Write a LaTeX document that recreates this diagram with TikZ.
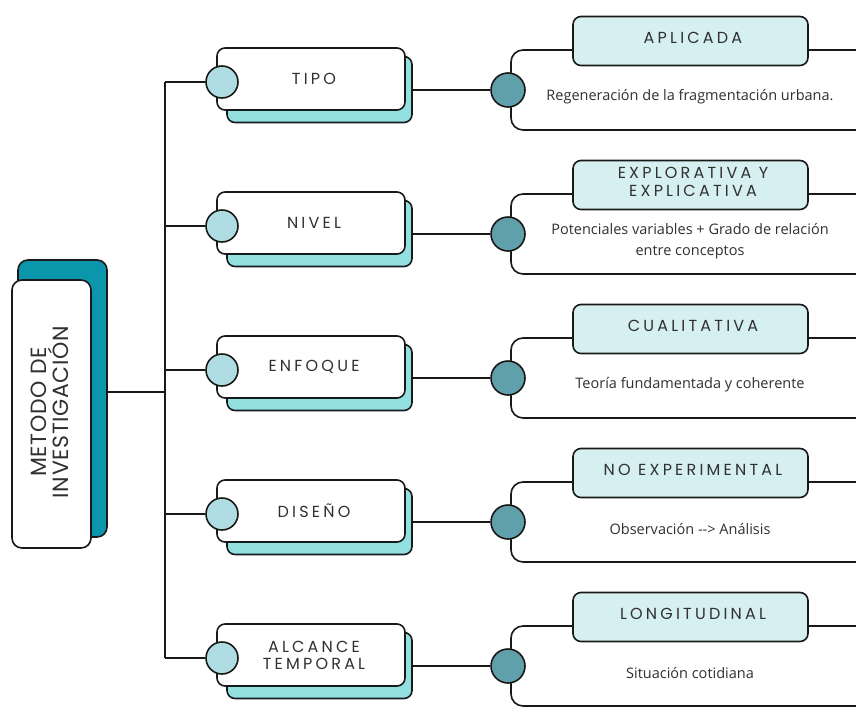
\documentclass[tikz,border=0pt]{standalone}
\usepackage{fontspec}
\setmainfont{Open Sans}
\newfontfamily\labfont[LetterSpace=20]{Poppins}
\newfontfamily\titfont[LetterSpace=3]{Poppins}
\definecolor{mainteal}{RGB}{12,150,172}
\definecolor{midshadow}{RGB}{146,224,224}
\definecolor{midcirc}{RGB}{175,219,226}
\definecolor{darkcirc}{RGB}{96,160,170}
\definecolor{headfill}{RGB}{214,239,240}
\definecolor{ink}{RGB}{25,25,25}
\tikzset{
  base/.style={draw=ink, line width=1.6pt, inner sep=0pt},
  mainshadow/.style={base, fill=mainteal, rounded corners=10pt, minimum width=89pt, minimum height=277pt},
  mainbox/.style={base, fill=white, rounded corners=10pt, minimum width=79pt, minimum height=268pt},
  midback/.style={base, fill=midshadow, rounded corners=8pt, minimum width=185pt, minimum height=66pt},
  midbox/.style={base, fill=white, rounded corners=8pt, minimum width=188pt, minimum height=62pt},
  midlabel/.style={font=\labfont\fontsize{16}{17}\selectfont, align=center, text=ink!90},
  midcircle/.style={base, circle, fill=midcirc, minimum size=32pt},
  rcircle/.style={base, circle, fill=darkcirc, minimum size=34pt},
  headbox/.style={base, fill=headfill, rounded corners=8pt, minimum width=235pt, minimum height=49pt},
  headlabel/.style={font=\labfont\fontsize{16}{18}\selectfont, align=center, text=ink!90},
  bodytext/.style={font=\fontsize{14.5}{21}\selectfont, align=center, text=ink!90},
  conn/.style={draw=ink, line width=1.6pt},
}
\newcommand\diagrow[5]{%
  \pgfmathsetmacro\rowy{#2}%
  \pgfmathsetmacro\rowr{#2+8}%
  \coordinate (b#1) at (165,\rowy);
  \node[midback] (mb#1) at (319.5,\rowy+7.5) {};
  \node[midbox] (m#1) at (311,\rowy-3) {};
  \node[midlabel] (ml#1) at (314,\rowy-3) {#3};
  \node[midcircle] (mc#1) at (222,\rowy) {};
  \draw[conn] (b#1) -- (mc#1);
  \coordinate (bt#1) at (862,\rowr-40);
  \coordinate (bb#1) at (862,\rowr+40);
  \draw[conn, rounded corners=12pt] (bt#1) -- (511,\rowr-40) -- (511,\rowr+40) -- (bb#1);
  \node[headbox] (h#1) at (690.5,\rowr-49) {};
  \node[headlabel] (hl#1) at (693,\rowr-52) {#4};
  \node[rcircle] (rc#1) at (508,\rowr) {};
  \draw[conn] (mb#1.east|-rc#1) -- (rc#1);
  \node[bodytext] (t#1) at (690,\rowr+7) {#5};
}
\begin{document}
\begin{tikzpicture}[x=1pt,y=-1pt]
\clip (0,0) rectangle (856,707);
\fill[white] (0,0) rectangle (856,707);
\node[mainshadow] (mainback) at (62.5,398.5) {};
\node[mainbox] (main) at (51.5,414) {};
\node[rotate=90, font=\titfont\fontsize{22}{19}\selectfont, align=center, text=ink!90] (maintext) at (50,412) {METODO DE\\INVESTIGACIÓN};
\coordinate (j) at (165,392);
\draw[conn] (mainback.east|-j) -- (j);
\diagrow{0}{82}{TIPO}{APLICADA}{Regeneración de la fragmentación urbana.}
\diagrow{1}{226}{NIVEL}{EXPLORATIVA Y\\EXPLICATIVA}{Potenciales variables + Grado de relación\\entre conceptos}
\diagrow{2}{370}{ENFOQUE}{CUALITATIVA}{Teoría fundamentada y coherente}
\diagrow{3}{514}{DISEÑO}{NO EXPERIMENTAL}{Observación -\kern0pt-\kern0pt> Análisis}
\diagrow{4}{658}{ALCANCE\\TEMPORAL}{LONGITUDINAL}{Situación cotidiana}
\draw[conn] (b0) -- (b4);
\end{tikzpicture}
\end{document}
